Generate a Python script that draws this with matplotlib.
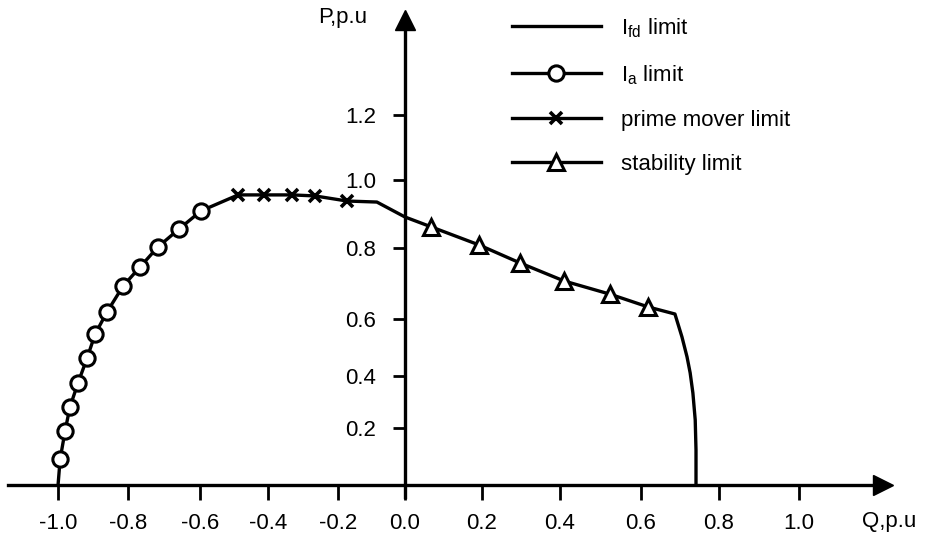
import numpy as np
import matplotlib.pyplot as plt
from matplotlib.lines import Line2D

plt.rcParams['font.family'] = ['Liberation Sans', 'DejaVu Sans']
plt.rcParams['mathtext.fontset'] = 'custom'
plt.rcParams['mathtext.rm'] = 'Liberation Sans'

# armature current limit (circle markers from 2nd point on)
ia_q = [-1.0, -0.994, -0.98, -0.966, -0.943, -0.917, -0.894, -0.86, -0.814,
        -0.767, -0.717, -0.658, -0.597]
ia_p = [0.0, 0.091, 0.189, 0.281, 0.373, 0.463, 0.547, 0.62, 0.693,
        0.746, 0.803, 0.856, 0.909]

# prime mover limit
pm_q = [-0.488, -0.412, -0.331, -0.266, -0.173]
pm_p = [0.956, 0.956, 0.956, 0.953, 0.938]

# field current limit pieces (no markers)
fd_top_q = [-0.084, 0.0]
fd_top_p = [0.935, 0.891]
fd_right_q = [0.687, 0.705, 0.718, 0.726, 0.733, 0.739, 0.741, 0.741]
fd_right_p = [0.614, 0.537, 0.467, 0.411, 0.335, 0.231, 0.123, 0.0]

# stability limit
st_q = [0.068, 0.192, 0.297, 0.41, 0.523, 0.618]
st_p = [0.862, 0.809, 0.758, 0.707, 0.670, 0.634]

xticks = [-1.0, -0.8, -0.6, -0.4, -0.2, 0.0, 0.2, 0.4, 0.6, 0.8, 1.0]
yticks = [0.2, 0.4, 0.6, 0.8, 1.0, 1.2]

# the printed axes are not evenly spaced, so calibrate the scale on the ticks
x_cal = np.array([-1.2, -1.0, -0.8, -0.6, -0.4, -0.2, 0.0, 0.2, 0.4, 0.6, 0.8, 1.0, 1.4])
x_cal_px = np.array([-12, 58, 128, 200, 268, 338, 405, 482, 560, 641, 719, 799, 959])
y_cal = np.array([-0.2, 0.0, 0.2, 0.4, 0.6, 0.8, 1.0, 1.2, 1.4, 1.6])
y_cal_px = -np.array([542, 485, 428, 376, 319, 248, 180, 115, 50, -15])


def fx(v):
    return np.interp(v, x_cal, x_cal_px)


def fx_inv(v):
    return np.interp(v, x_cal_px, x_cal)


def fy(v):
    return np.interp(v, y_cal, y_cal_px)


def fy_inv(v):
    return np.interp(v, y_cal_px, y_cal)


W, H = 927, 543
fig = plt.figure(figsize=(W / 100, H / 100), dpi=100)
ax = fig.add_axes([8 / W, 46 / H, 875 / W, 477 / H])
ax.set_xscale('function', functions=(fx, fx_inv))
ax.set_yscale('function', functions=(fy, fy_inv))

env_q = ia_q + pm_q + fd_top_q + st_q + fd_right_q
env_p = ia_p + pm_p + fd_top_p + st_p + fd_right_p
lw = 2.4
ax.plot(env_q, env_p, color='black', lw=lw, zorder=3, solid_joinstyle='round')
ax.plot(ia_q[1:], ia_p[1:], 'o', ms=11, mfc='white', mec='black', mew=2.2, zorder=4)
ax.plot(pm_q, pm_p, 'x', ms=8, mec='black', mew=2.6, zorder=4)
ax.plot(st_q, st_p, '^', ms=12, mfc='white', mec='black', mew=2.2, zorder=4)

ax.set_xlim(-1.143, 1.21)
ax.set_ylim(-0.042, 1.492)

for s in ['top', 'right']:
    ax.spines[s].set_visible(False)
ax.spines['left'].set_position(('data', 0))
ax.spines['bottom'].set_position(('data', 0))
ax.spines['left'].set_linewidth(2.4)
ax.spines['bottom'].set_linewidth(2.4)
ax.plot(1, 0, '>k', ms=15, transform=ax.get_yaxis_transform(), clip_on=False)
ax.plot(0, 1, '^k', ms=15, transform=ax.get_xaxis_transform(), clip_on=False)

ax.set_xticks(xticks)
ax.set_xticklabels([f'{v:.1f}' for v in xticks])
ax.set_yticks(yticks)
ax.set_yticklabels([f'{v:.1f}' for v in yticks])
ax.tick_params(axis='x', direction='out', length=11, width=2, pad=9, labelsize=16)
ax.tick_params(axis='y', direction='out', length=9, width=2, pad=12, labelsize=16)
ax.minorticks_off()

fig.text(367 / W, 1 - 18 / H, 'P,p.u', ha='right', va='center', fontsize=16)
fig.text(916 / W, 1 - 522 / H, 'Q,p.u', ha='right', va='center', fontsize=16)

handles = [
    Line2D([], [], color='black', lw=lw),
    Line2D([], [], color='black', lw=lw, marker='o', ms=11, mfc='white', mew=2.2),
    Line2D([], [], color='black', lw=lw, marker='x', ms=8, mew=2.6),
    Line2D([], [], color='black', lw=lw, marker='^', ms=12, mfc='white', mew=2.2),
]
labels = [r'I$_\mathregular{fd}$ limit', r'I$_\mathregular{a}$ limit',
          'prime mover limit', 'stability limit']
ax.legend(handles, labels, loc='upper left', bbox_to_anchor=(512 / W, 1 - 16 / H),
          bbox_transform=fig.transFigure, frameon=False, fontsize=16,
          handlelength=4.0, handletextpad=0.9, labelspacing=1.05,
          borderpad=0, borderaxespad=0)

fig.savefig('out.png', dpi=100)
